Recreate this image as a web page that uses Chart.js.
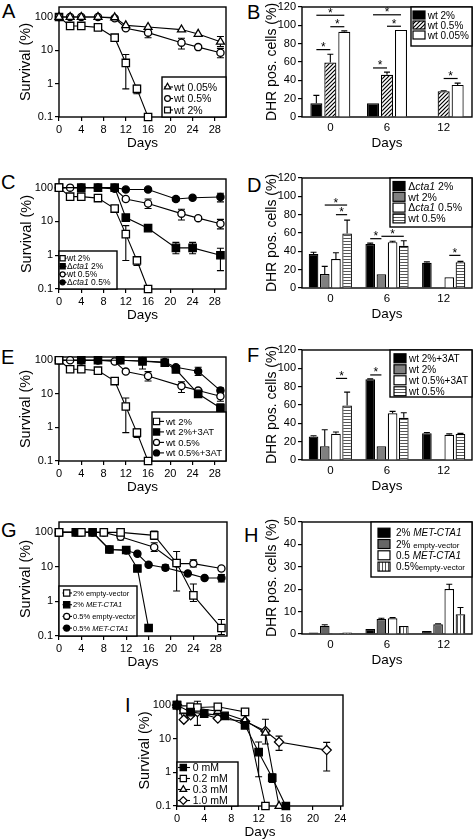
<!DOCTYPE html>
<html>
<head>
<meta charset="utf-8">
<script src="https://cdn.jsdelivr.net/npm/chart.js@4.4.1/dist/chart.umd.min.js"></script>
<style>
  body { margin: 0; background: #fff; overflow: hidden; }
  #page { position: relative; width: 474px; height: 840px; overflow: hidden; font-family: "Liberation Sans", Arial, sans-serif; }
  #page canvas { position: absolute; }
  .tag { position: absolute; font-size: 20px; line-height: 20px; color: #000; }
</style>
</head>
<body>
<div id="page">
  <div class="tag" style="left:2px;top:1px">A</div>
  <div class="tag" style="left:247px;top:2px">B</div>
  <div class="tag" style="left:1px;top:172px">C</div>
  <div class="tag" style="left:247px;top:175px">D</div>
  <div class="tag" style="left:1px;top:347px">E</div>
  <div class="tag" style="left:247px;top:345px">F</div>
  <div class="tag" style="left:1px;top:520px">G</div>
  <div class="tag" style="left:244px;top:525px">H</div>
  <div class="tag" style="left:125px;top:695px">I</div>
</div>
<script>
// ---------- data ----------
const survTicksY = [0.1, 1, 10, 100];
const survTicksX = [0, 4, 8, 12, 16, 20, 24, 28];
const survTicksXI = [0, 4, 8, 12, 16, 20, 24];
const dhrTicks = [0, 20, 40, 60, 80, 100, 120];
const dhrTicksH = [0, 10, 20, 30, 40, 50];
const barDays = ['0', '6', '12'];

// wild type survival, shared by A, C, E
const wt2Days = [0, 2, 4, 7, 10, 12, 14, 16];
const wt2Surv = [100, 54, 54, 49, 24, 4.2, 0.7, 0.1];
const wt2Err = [null, null, null, null, null, [0.7, 7.5], [0.5, 0.9], null];
const wt05Days = [0, 2, 4, 7, 10, 12, 16, 22, 25, 29];
const wt05Surv = [100, 100, 100, 100, 92, 46, 34, 17, 12.5, 8.5];
const wt05Err = [null, null, null, null, null, null, [24, 46], [11, 23], null, [6, 11.5]];
const wt005Days = [0, 2, 4, 7, 10, 12, 16, 22, 25, 29];
const wt005Surv = [100, 100, 100, 100, 97, 56, 50, 42, 31, 18];
const wt005Err = [null, null, null, null, null, null, null, null, null, [13, 26]];

// C: cta1 deletion
const cta2Days = [0, 4, 7, 10, 12, 16, 21, 24, 29];
const cta2Surv = [100, 100, 100, 100, 13, 6.3, 1.65, 1.65, 1.0];
const cta2Err = [null, null, null, null, null, null, [1.1, 2.4], [1.1, 2.4], [0.35, 1.6]];
const cta05Days = [0, 4, 7, 10, 12, 16, 21, 24, 29];
const cta05Surv = [100, 100, 100, 100, 88, 88, 46, 50, 53];
const cta05Err = [null, null, null, null, null, null, [40, 52], null, [38, 68]];

// E: 3AT
const at2Days = [0, 4, 7, 11, 15, 19, 21, 25, 29];
const at2Surv = [100, 100, 100, 100, 93, 84, 53, 10, 3.8];
const at2Err = [null, null, null, null, [55, 100], null, null, null, [2.8, 5]];
const at05Days = [0, 4, 7, 11, 15, 19, 21, 25, 29];
const at05Surv = [100, 100, 100, 100, 95, 88, 62, 47, 12.5];
const at05Err = [null, null, null, null, null, null, null, [35, 62], [10, 15]];

// G: MET-CTA1
const ev2Days = [0, 4, 8, 11, 17, 21, 24, 29];
const ev2Surv = [100, 100, 100, 100, 82, 13, 1.5, 0.17];
const ev2Err = [null, null, null, null, [62, 110], null, [1.0, 3.2], [0.11, 0.3]];
const met2Days = [0, 3, 6, 9, 12, 14, 16];
const met2Surv = [100, 100, 100, 32, 31, 9, 0.17];
const met2Err = [null, null, null, null, [26, 35], null, null];
const ev05Days = [0, 4, 8, 11, 17, 21, 24, 29];
const ev05Surv = [100, 100, 100, 75, 37, 12.5, 12.5, 9];
const ev05Err = [null, null, null, [60, 88], [28, 50], [2, 28], [10, 16], null];
const met05Days = [0, 3, 6, 9, 12, 14, 16, 19, 23, 26, 29];
const met05Surv = [100, 100, 100, 32, 30, 24, 11.5, 9.5, 6.5, 4.8, 4.8];
const met05Err = [null, null, null, null, null, null, null, [8, 11.5], null, null, [3.7, 6]];

// I: 3AT dose
const mm0Days = [0, 2, 4, 7, 10, 12, 14, 16];
const mm0Surv = [100, 62, 56, 48, 25, 4, 0.69, 0.1];
const mm0Err = [null, null, null, null, null, [0.74, 8], [0.5, 0.9], null];
const mm02Days = [0, 1, 2, 3, 6, 10, 13];
const mm02Surv = [100, 74, 89, 85, 89, 63, 0.1];
const mm02Err = [null, null, null, null, null, null, null];
const mm03Days = [0, 1, 2, 3, 6, 10, 13, 15];
const mm03Surv = [100, 65, 70, 80, 66, 35, 15, 0.1];
const mm03Err = [null, null, null, null, null, null, null, null];
const mm10Days = [0, 1, 2, 3, 6, 10, 13, 15, 22];
const mm10Surv = [100, 37, 50, 62, 40, 33, 17, 8, 4.6];
const mm10Err = [null, null, null, [25, 130], null, null, [7, 38], [4.5, 12], [1.1, 7.8]];

// B
const bWt2 = [15, 15, null];
const bWt2Err = [23.6, null, null];
const bWt05 = [59.5, 46, 28];
const bWt05Err = [68.5, 49, 28.7];
const bWt005 = [93, 95, 35];
const bWt005Err = [94, null, 37];
const bSig = [[0, 0, 1, 73.5], [0, 1, 2, 98.5], [0, 0, 2, 111], [1, 0, 1, 53.5], [1, 1, 2, 99], [1, 0, 2, 111.5], [2, 1, 2, 42]];

// D
const dCta2 = [37, 48, 27.6];
const dCta2Err = [39, 49, 28.5];
const dWt2 = [15.3, 15, null];
const dWt2Err = [23.6, null, null];
const dCta05 = [31.6, 50, 11.6];
const dCta05Err = [38.5, 51, null];
const dWt05 = [59.5, 46, 28];
const dWt05Err = [74, 51.5, 29];
const dSig = [[0, 1, 3, 90.5], [0, 2, 3, 80], [1, 0, 1, 53.8], [1, 1, 3, 56.4], [2, 2, 3, 35.6]];

// F
const fAt2 = [25.7, 88, 29.3];
const fAt2Err = [26.5, 88.5, 30];
const fWt2 = [15, 15, null];
const fWt2Err = [33, null, null];
const fAt05 = [28.6, 51, 27.5];
const fAt05Err = [30.5, 53, 28.5];
const fWt05 = [59.5, 46, 28.3];
const fWt05Err = [74, 51.5, 29];
const fSig = [[0, 2, 3, 89], [1, 0, 1, 92.8]];

// H
const hMet2 = [0.7, 2.2, 1.3];
const hMet2Err = [null, null, null];
const hEv2 = [3.7, 6.7, 4.3];
const hEv2Err = [4.1, 7, 4.6];
const hMet05 = [0.3, 7.0, 20.1];
const hMet05Err = [null, 7.3, 22.2];
const hEv05 = [0.7, 3.6, 8.8];
const hEv05Err = [null, null, 11.8];

// ---------- drawing helpers ----------
const FAM = '"Liberation Sans", Arial, sans-serif';
Chart.defaults.font.family = FAM;
Chart.defaults.color = '#000';

const MARK = {
  sq: { pointStyle: 'rect', pointRadius: 5.2 },
  ci: { pointStyle: 'circle', pointRadius: 3.6 },
  tr: { pointStyle: 'triangle', pointRadius: 4.6 },
  di: { pointStyle: 'rectRot', pointRadius: 4.6 }
};

function drawMark(ctx, mark, x, y, filled, k) {
  ctx.beginPath();
  if (mark === 'sq') { const s = 3.7 * k; ctx.rect(x - s, y - s, 2 * s, 2 * s); }
  else if (mark === 'ci') ctx.arc(x, y, 3.6 * k, 0, Math.PI * 2);
  else if (mark === 'tr') { const r = 4.6 * k; ctx.moveTo(x, y - r); ctx.lineTo(x + r * 0.866, y + r / 2); ctx.lineTo(x - r * 0.866, y + r / 2); ctx.closePath(); }
  else { const r = 4.6 * k; ctx.moveTo(x, y - r); ctx.lineTo(x + r, y); ctx.lineTo(x, y + r); ctx.lineTo(x - r, y); ctx.closePath(); }
  ctx.fillStyle = filled ? '#000' : '#fff';
  ctx.fill();
  ctx.lineWidth = 1.2;
  ctx.strokeStyle = '#000';
  ctx.stroke();
}

// _x_ = italic, {x} = small
function richText(ctx, str, x, y, size, small) {
  const base = y + size * 0.36;
  str.split(/(_[^_]*_|\{[^}]*\})/).filter(Boolean).forEach(p => {
    let t = p, f = size + 'px ' + FAM;
    if (p[0] === '_') { t = p.slice(1, -1); f = 'italic ' + size + 'px ' + FAM; }
    else if (p[0] === '{') { t = p.slice(1, -1); f = (small || size * 0.8) + 'px ' + FAM; }
    ctx.font = f;
    ctx.fillText(t, x, base);
    x += ctx.measureText(t).width;
  });
}

function pattern(kind) {
  const c = document.createElement('canvas');
  const s = kind === 'diag' ? 4 : 3;
  c.width = c.height = s;
  const g = c.getContext('2d');
  g.fillStyle = '#fff';
  g.fillRect(0, 0, s, s);
  if (kind === 'diag') {
    g.strokeStyle = '#000'; g.lineWidth = 1.2;
    g.beginPath();
    g.moveTo(-1, s + 1); g.lineTo(s + 1, -1);
    g.moveTo(-1, 1); g.lineTo(1, -1);
    g.moveTo(s - 1, s + 1); g.lineTo(s + 1, s - 1);
    g.stroke();
  } else if (kind === 'horiz') {
    g.fillStyle = '#555'; g.fillRect(0, 0, s, 1);
  } else {
    g.fillStyle = '#555'; g.fillRect(0, 0, 1, s);
  }
  return g.createPattern(c, 'repeat');
}

const boxPlugin = {
  id: 'frame',
  beforeDatasetsDraw(chart) {
    const { ctx, chartArea: a } = chart;
    ctx.save();
    ctx.strokeStyle = '#000';
    ctx.lineWidth = 1.4;
    ctx.strokeRect(a.left, a.top, a.right - a.left, a.bottom - a.top);
    ctx.restore();
  }
};

function drawErrs(chart, barMode) {
  const ctx = chart.ctx, ys = chart.scales.y;
  ctx.save();
  ctx.strokeStyle = '#000';
  ctx.lineWidth = 1.1;
  chart.data.datasets.forEach((ds, i) => {
    if (!ds.errs) return;
    chart.getDatasetMeta(i).data.forEach((el, j) => {
      const e = ds.errs[j];
      if (e == null) return;
      const lo = barMode ? ds.data[j] : e[0];
      const hi = barMode ? e : e[1];
      const x = el.x, y1 = ys.getPixelForValue(lo), y2 = ys.getPixelForValue(hi);
      const c = barMode ? 3 : 3.5;
      ctx.beginPath();
      ctx.moveTo(x, y1); ctx.lineTo(x, y2);
      ctx.moveTo(x - c, y2); ctx.lineTo(x + c, y2);
      if (!barMode) { ctx.moveTo(x - c, y1); ctx.lineTo(x + c, y1); }
      ctx.stroke();
    });
  });
  ctx.restore();
}

const errPlugin = {
  id: 'errBars',
  beforeDatasetsDraw(chart) { if (chart.config.type === 'line') drawErrs(chart, false); },
  afterDatasetsDraw(chart) { if (chart.config.type === 'bar') drawErrs(chart, true); }
};

const sigPlugin = {
  id: 'sig',
  afterDatasetsDraw(chart, args, o) {
    if (!o.list) return;
    const ctx = chart.ctx, ys = chart.scales.y;
    ctx.save();
    ctx.strokeStyle = '#000';
    ctx.fillStyle = '#000';
    ctx.lineWidth = 1.2;
    ctx.font = '12px ' + FAM;
    ctx.textAlign = 'center';
    o.list.forEach(([g, d1, d2, v]) => {
      const x1 = chart.getDatasetMeta(d1).data[g].x;
      const x2 = chart.getDatasetMeta(d2).data[g].x;
      const y = ys.getPixelForValue(v);
      ctx.beginPath(); ctx.moveTo(x1, y); ctx.lineTo(x2, y); ctx.stroke();
      ctx.fillText('*', (x1 + x2) / 2, y + 1.5);
    });
    ctx.restore();
  }
};

const legendPlugin = {
  id: 'boxLegend',
  afterDraw(chart, args, o) {
    if (!o.items) return;
    const a = chart.chartArea, ctx = chart.ctx;
    const x0 = o.corner[1] === 'r' ? a.right - o.w : a.left;
    const y0 = o.corner[0] === 'b' ? a.bottom - o.h : a.top;
    ctx.save();
    ctx.fillStyle = '#fff';
    ctx.fillRect(x0, y0, o.w, o.h);
    ctx.strokeStyle = '#000';
    ctx.lineWidth = 1.4;
    ctx.strokeRect(x0, y0, o.w, o.h);
    o.items.forEach((it, i) => {
      const y = y0 + o.first + i * o.row;
      if (it.mark) {
        ctx.beginPath();
        ctx.lineWidth = 1.1;
        ctx.moveTo(x0 + o.lx[0], y); ctx.lineTo(x0 + o.lx[1], y);
        ctx.stroke();
        drawMark(ctx, it.mark, x0 + o.mx, y, it.filled, o.k || 1);
      } else {
        ctx.fillStyle = it.fill;
        ctx.fillRect(x0 + o.sx, y - o.sh / 2, o.sw, o.sh);
        ctx.lineWidth = 1.2;
        ctx.strokeRect(x0 + o.sx, y - o.sh / 2, o.sw, o.sh);
      }
      ctx.fillStyle = '#000';
      richText(ctx, it.label, x0 + o.tx, y, o.size, o.small);
    });
    ctx.restore();
  }
};

function addCanvas(plot, yW, padTop, padRight, xH) {
  const cv = document.createElement('canvas');
  const w = yW + plot.r - plot.l + padRight, h = padTop + plot.b - plot.t + xH;
  cv.width = w; cv.height = h;
  cv.style.left = (plot.l - yW) + 'px';
  cv.style.top = (plot.t - padTop) + 'px';
  cv.style.width = w + 'px';
  cv.style.height = h + 'px';
  document.getElementById('page').appendChild(cv);
  return cv;
}

const tickGrid = { display: true, drawOnChartArea: false, drawTicks: true, tickLength: 4, color: '#000', lineWidth: 1.2 };

function survPanel(plot, series, legend, xMax, xTicks, yMax, titleX) {
  const yW = 59, padTop = 12, padRight = 10, xH = 36;
  const cv = addCanvas(plot, yW, padTop, padRight, xH);
  legend.items = series.map(s => ({ label: s.label, mark: s.mark, filled: s.filled }));
  new Chart(cv, {
    type: 'line',
    data: {
      datasets: series.map(s => Object.assign({
        label: s.label,
        data: s.days.map((d, i) => ({ x: d, y: s.vals[i] })),
        errs: s.errs,
        borderColor: '#000', borderWidth: 1.1, tension: 0, clip: false,
        pointBackgroundColor: s.filled ? '#000' : '#fff',
        pointBorderColor: '#000', pointBorderWidth: 1.3
      }, MARK[s.mark]))
    },
    options: {
      responsive: false, animation: false, events: [],
      layout: { padding: { top: padTop, right: padRight, left: 0, bottom: 0 } },
      plugins: { legend: { display: false }, tooltip: { enabled: false }, boxLegend: legend },
      scales: {
        x: {
          type: 'linear', min: 0, max: xMax,
          afterBuildTicks: s => { s.ticks = xTicks.map(v => ({ value: v })); },
          afterFit: s => { s.height = xH; },
          grid: tickGrid, border: { display: false },
          ticks: { font: { size: 11 }, padding: 2, maxRotation: 0, autoSkip: false },
          title: { display: true, text: 'Days', font: { size: 13.5 }, padding: { top: 0, bottom: 2 } }
        },
        y: {
          type: 'logarithmic', min: 0.1, max: yMax,
          afterBuildTicks: s => { s.ticks = survTicksY.map(v => ({ value: v })); },
          afterFit: s => { s.width = yW; },
          grid: tickGrid, border: { display: false },
          ticks: { font: { size: 11 }, padding: 2, autoSkip: false, callback: v => String(v) },
          title: { display: true, text: 'Survival (%)', font: { size: 14.5 }, padding: { top: titleX - (plot.l - yW) - 8.7, bottom: 0 } }
        }
      }
    },
    plugins: [boxPlugin, errPlugin, legendPlugin]
  });
}

function barPanel(plot, sets, yMax, yTicks, legend, sig, catPct) {
  const yW = 52, padTop = 12, padRight = 10, xH = 36;
  const cv = addCanvas(plot, yW, padTop, padRight, xH);
  legend.items = sets.map(s => ({ label: s.label, fill: s.fill }));
  new Chart(cv, {
    type: 'bar',
    data: {
      labels: barDays,
      datasets: sets.map(s => ({
        label: s.label, data: s.vals, errs: s.errs,
        backgroundColor: s.fill, borderColor: '#000', borderWidth: 1.2,
        categoryPercentage: catPct, barPercentage: 0.86
      }))
    },
    options: {
      responsive: false, animation: false, events: [],
      layout: { padding: { top: padTop, right: padRight, left: 0, bottom: 0 } },
      plugins: { legend: { display: false }, tooltip: { enabled: false }, boxLegend: legend, sig: { list: sig } },
      scales: {
        x: {
          type: 'category',
          afterFit: s => { s.height = xH; },
          grid: { display: false, drawTicks: false }, border: { display: false },
          ticks: { font: { size: 11.5 }, padding: 4, maxRotation: 0 },
          title: { display: true, text: 'Days', font: { size: 13.5 }, padding: { top: 0, bottom: 2 } }
        },
        y: {
          type: 'linear', min: 0, max: yMax,
          afterBuildTicks: s => { s.ticks = yTicks.map(v => ({ value: v })); },
          afterFit: s => { s.width = yW; },
          grid: tickGrid, border: { display: false },
          ticks: { font: { size: 11 }, padding: 2, autoSkip: false },
          title: { display: true, text: 'DHR pos. cells (%)', font: { size: 14 }, padding: { top: 272 - (plot.l - yW) - 8.4, bottom: 0 } }
        }
      }
    },
    plugins: [boxPlugin, errPlugin, sigPlugin, legendPlugin]
  });
}

// ---------- panels ----------
const sWt2 = { label: 'wt 2%', days: wt2Days, vals: wt2Surv, errs: wt2Err, mark: 'sq', filled: false };
const sWt05 = { label: 'wt 0.5%', days: wt05Days, vals: wt05Surv, errs: wt05Err, mark: 'ci', filled: false };

survPanel({ l: 59, t: 7, r: 226, b: 117 }, [
  { label: 'wt 0.05%', days: wt005Days, vals: wt005Surv, errs: wt005Err, mark: 'tr', filled: false },
  sWt05, sWt2
], { corner: 'br', w: 64, h: 40, first: 10, row: 11.5, mx: 5.5, lx: [2, 11], tx: 12, size: 10.5, k: 0.8 }, 30, survTicksX, 200, 26);

survPanel({ l: 59, t: 179, r: 226, b: 289 }, [
  sWt2,
  { label: 'Δ_cta1_ 2%', days: cta2Days, vals: cta2Surv, errs: cta2Err, mark: 'sq', filled: true },
  sWt05,
  { label: 'Δ_cta1_ 0.5%', days: cta05Days, vals: cta05Surv, errs: cta05Err, mark: 'ci', filled: true }
], { corner: 'bl', w: 58, h: 38, first: 7.3, row: 8, mx: 3.6, lx: [0.5, 7.5], tx: 8, size: 8.5, k: 0.7 }, 30, survTicksX, 180, 27);

survPanel({ l: 59, t: 357, r: 226, b: 461 }, [
  sWt2,
  { label: 'wt 2%+3AT', days: at2Days, vals: at2Surv, errs: at2Err, mark: 'sq', filled: true },
  sWt05,
  { label: 'wt 0.5%+3AT', days: at05Days, vals: at05Surv, errs: at05Err, mark: 'ci', filled: true }
], { corner: 'br', w: 74, h: 49, first: 9.4, row: 10.5, mx: 4.5, lx: [1, 12], tx: 14, size: 9.5, k: 0.85 }, 30, survTicksX, 125, 26);

survPanel({ l: 59, t: 522, r: 227, b: 636 }, [
  { label: '2% empty-vector', days: ev2Days, vals: ev2Surv, errs: ev2Err, mark: 'sq', filled: false },
  { label: '2% _MET-CTA1_', days: met2Days, vals: met2Surv, errs: met2Err, mark: 'sq', filled: true },
  { label: '0.5% empty-vector', days: ev05Days, vals: ev05Surv, errs: ev05Err, mark: 'ci', filled: false },
  { label: '0.5% _MET-CTA1_', days: met05Days, vals: met05Surv, errs: met05Err, mark: 'ci', filled: true }
], { corner: 'bl', w: 78, h: 50, first: 7, row: 11.7, mx: 7.7, lx: [3.5, 13], tx: 14, size: 7.5, k: 0.85 }, 30, survTicksX, 200, 26);

survPanel({ l: 177, t: 695, r: 343, b: 806 }, [
  { label: '0 mM', days: mm0Days, vals: mm0Surv, errs: mm0Err, mark: 'sq', filled: true },
  { label: '0.2 mM', days: mm02Days, vals: mm02Surv, errs: mm02Err, mark: 'sq', filled: false },
  { label: '0.3 mM', days: mm03Days, vals: mm03Surv, errs: mm03Err, mark: 'tr', filled: false },
  { label: '1.0 mM', days: mm10Days, vals: mm10Surv, errs: mm10Err, mark: 'di', filled: false }
], { corner: 'bl', w: 61, h: 44, first: 5.5, row: 11, mx: 6.3, lx: [1, 13], tx: 15.7, size: 10.5, k: 0.85 }, 24.4, survTicksXI, 200, 145);

const black = '#000', white = '#fff';
barPanel({ l: 302, t: 7, r: 472, b: 117 }, [
  { label: 'wt 2%', vals: bWt2, errs: bWt2Err, fill: black },
  { label: 'wt 0.5%', vals: bWt05, errs: bWt05Err, fill: pattern('diag') },
  { label: 'wt 0.05%', vals: bWt005, errs: bWt005Err, fill: white }
], 120, dhrTicks, { corner: 'tr', w: 61, h: 39, first: 8, row: 10, sx: 2, sw: 12, sh: 8, tx: 16.7, size: 10 }, bSig, 0.74);

barPanel({ l: 302, t: 178, r: 472, b: 288 }, [
  { label: 'Δ_cta1_ 2%', vals: dCta2, errs: dCta2Err, fill: black },
  { label: 'wt 2%', vals: dWt2, errs: dWt2Err, fill: '#808080' },
  { label: 'Δ_cta1_ 0.5%', vals: dCta05, errs: dCta05Err, fill: white },
  { label: 'wt 0.5%', vals: dWt05, errs: dWt05Err, fill: pattern('horiz') }
], 120, dhrTicks, { corner: 'tr', w: 82, h: 49, first: 8, row: 10.8, sx: 3, sw: 12, sh: 9, tx: 18.3, size: 10.5 }, dSig, 0.79);

barPanel({ l: 302, t: 350, r: 472, b: 460 }, [
  { label: 'wt 2%+3AT', vals: fAt2, errs: fAt2Err, fill: black },
  { label: 'wt 2%', vals: fWt2, errs: fWt2Err, fill: '#808080' },
  { label: 'wt 0.5%+3AT', vals: fAt05, errs: fAt05Err, fill: white },
  { label: 'wt 0.5%', vals: fWt05, errs: fWt05Err, fill: pattern('horiz') }
], 120, dhrTicks, { corner: 'tr', w: 82, h: 47, first: 8.3, row: 11, sx: 4, sw: 12, sh: 9, tx: 19, size: 10 }, fSig, 0.79);

barPanel({ l: 302, t: 522, r: 472, b: 634 }, [
  { label: '2% _MET-CTA1_', vals: hMet2, errs: hMet2Err, fill: black },
  { label: '2% {empty-vector}', vals: hEv2, errs: hEv2Err, fill: '#666' },
  { label: '0.5 _MET-CTA1_', vals: hMet05, errs: hMet05Err, fill: white },
  { label: '0.5%{empty-vector}', vals: hEv05, errs: hEv05Err, fill: pattern('vert') }
], 50, dhrTicksH, { corner: 'tr', w: 101, h: 55, first: 10.7, row: 11.3, sx: 7, sw: 12, sh: 9, tx: 25, size: 10, small: 8 }, [], 0.79);
</script>
</body>
</html>
